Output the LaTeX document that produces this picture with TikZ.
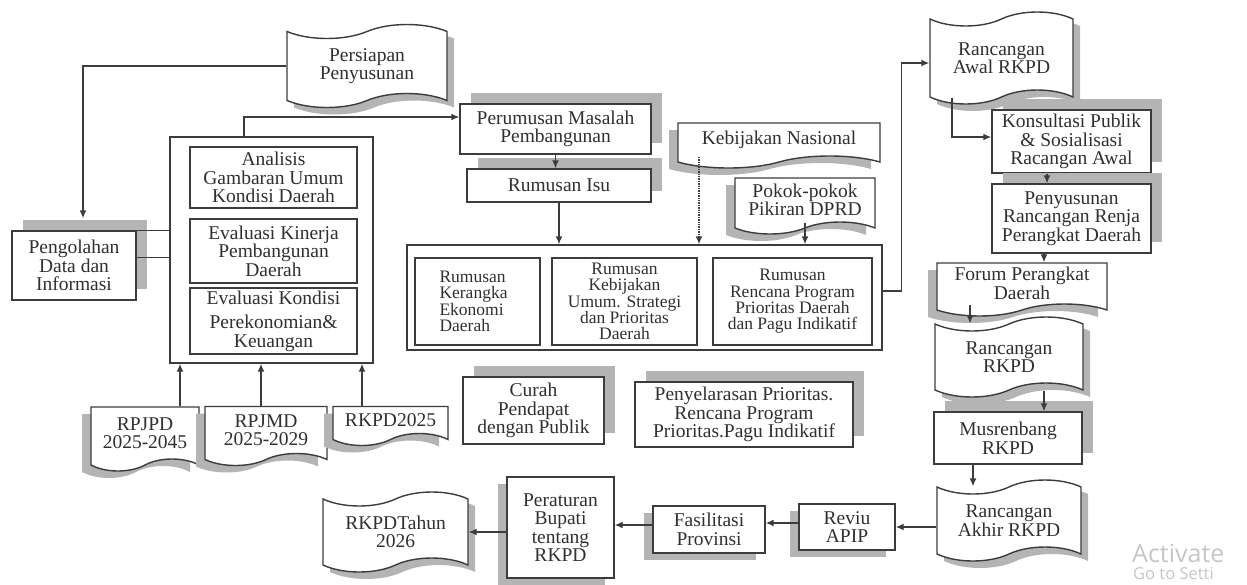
\documentclass[tikz,border=0pt]{standalone}
\usepackage{fontspec}
\setmainfont{Liberation Serif}
\setsansfont{Open Sans}
\usetikzlibrary{arrows.meta,shapes.symbols,shadows}

\definecolor{linec}{HTML}{3C3C3C}
\definecolor{textc}{HTML}{303030}
\definecolor{shadec}{HTML}{B4B4B4}

\tikzset{
  base/.style={draw=linec, line width=1.4pt, fill=white, text=textc, align=center,
    inner sep=1pt, font=\fontsize{19.5}{18.5}\selectfont},
  box/.style={base, rectangle},
  tapebox/.style={base, tape, tape bend height=14pt},
  docbox/.style={base, tape, tape bend top=none, tape bend height=12pt},
  inbox/.style={box, font=\fontsize{17.5}{16.3}\selectfont},
  shUR/.style={drop shadow={shadow xshift=11pt, shadow yshift=11pt, fill=shadec, opacity=1}},
  shDL/.style={drop shadow={shadow xshift=-9pt, shadow yshift=-7pt, fill=shadec, opacity=1}},
  shDR/.style={drop shadow={shadow xshift=7pt, shadow yshift=-7pt, fill=shadec, opacity=1}},
  link/.style={draw=linec, line width=1.4pt},
  arr/.style={link, -{Latex[length=8pt,width=7pt]}},
}

\begin{document}
\begin{tikzpicture}[x=1pt, y=-1pt]
  \useasboundingbox (0,0) rectangle (1247,584);
  \clip (0,0) rectangle (1247,584);

  % Persiapan dan pengolahan data
  \node[tapebox, shDR, minimum width=160pt, minimum height=83pt] (persiapan) at (367,66) {Persiapan\\Penyusunan};
  \node[box, shUR, minimum width=124pt, minimum height=69pt] (pengolahan) at (74,265.5) {Pengolahan\\Data dan\\Informasi};

  % Kelompok analisis
  \node[box, minimum width=203pt, minimum height=226pt] (grp) at (271.5,250) {};
  \node[box, minimum width=167pt, minimum height=61pt] (analisis) at (273.5,177.5) {Analisis\\Gambaran Umum\\Kondisi Daerah};
  \node[box, minimum width=167pt, minimum height=64pt] (evkinerja) at (273.5,251) {Evaluasi Kinerja\\Pembangunan\\Daerah};
  \node[box, minimum width=167pt, minimum height=66pt] (evkondisi) at (273.5,321) {Evaluasi Kondisi\\[6pt]Perekonomian\&\\Keuangan};

  % Dokumen rencana
  \node[docbox, shDL, minimum width=108pt, minimum height=64pt] (rpjpd) at (145,433) {RPJPD\\2025-2045};
  \node[docbox, shDL, minimum width=122pt, minimum height=59pt] (rpjmd) at (266,430) {RPJMD\\2025-2029};
  \node[docbox, shDL, minimum width=115pt, minimum height=39pt] (rkpdlalu) at (390.5,420) {RKPD2025};

  % Perumusan masalah
  \node[box, shUR, minimum width=191pt, minimum height=50pt] (perumusan) at (555.5,129) {Perumusan Masalah\\Pembangunan};
  \node[box, shUR, minimum width=184pt, minimum height=33pt] (isu) at (559,185.5) {Rumusan Isu};
  \node[docbox, shDL, minimum width=202pt, minimum height=45pt] (kebnas) at (779,139.5) {Kebijakan Nasional};
  \node[docbox, shDL, minimum width=140pt, minimum height=56pt] (pokir) at (805,200) {Pokok-pokok\\Pikiran DPRD};

  % Kelompok rumusan
  \node[box, minimum width=475pt, minimum height=105pt] (rumusan) at (644.5,297.5) {};
  \node[inbox, minimum width=125pt, minimum height=87pt, text width=76pt, align=left] (kerangka) at (477.5,301.5) {Rumusan\\Kerangka\\Ekonomi\\Daerah};
  \node[inbox, minimum width=145pt, minimum height=87pt] (kebum) at (624.5,301.5) {Rumusan\\Kebijakan\\Umum. Strategi\\dan Prioritas\\Daerah};
  \node[inbox, minimum width=159pt, minimum height=87pt] (rencana) at (792.5,301.5) {Rumusan\\Rencana Program\\Prioritas Daerah\\dan Pagu Indikatif};

  \node[box, shUR, minimum width=141pt, minimum height=67pt] (curah) at (533.5,410.5) {Curah\\Pendapat\\dengan Publik};
  \node[box, shUR, minimum width=218pt, minimum height=65pt] (selaras) at (744,414.5) {Penyelarasan Prioritas.\\Rencana Program\\Prioritas.Pagu Indikatif};

  % Kolom kanan
  \node[tapebox, shDR, minimum width=143pt, minimum height=92pt] (rawal) at (1001.5,58) {Rancangan\\Awal RKPD};
  \node[box, shUR, minimum width=159pt, minimum height=63pt] (konsultasi) at (1071.5,141.5) {Konsultasi Publik\\\& Sosialisasi\\Racangan Awal};
  \node[box, shUR, minimum width=159pt, minimum height=69pt] (renja) at (1071.5,218.5) {Penyusunan\\Rancangan Renja\\Perangkat Daerah};
  \node[docbox, shDL, minimum width=170pt, minimum height=53pt] (forum) at (1022,283.5) {Forum Perangkat\\Daerah};
  \node[tapebox, shDR, minimum width=148pt, minimum height=80pt] (rrkpd) at (1009,357) {Rancangan\\RKPD};
  \node[box, shUR, minimum width=148pt, minimum height=52pt] (musren) at (1008,438) {Musrenbang\\RKPD};
  \node[tapebox, shDR, minimum width=144pt, minimum height=81pt] (rakhir) at (1009,520.5) {Rancangan\\Akhir RKPD};

  % Baris bawah
  \node[box, shDL, minimum width=96pt, minimum height=46pt] (reviu) at (847,527) {Reviu\\APIP};
  \node[box, shDL, minimum width=112pt, minimum height=47pt] (fasilitasi) at (709,529.5) {Fasilitasi\\Provinsi};
  \node[box, shDL, minimum width=107pt, minimum height=101pt] (perbup) at (560.5,527.5) {Peraturan\\Bupati\\tentang\\RKPD};
  \node[tapebox, shDR, minimum width=145pt, minimum height=80pt] (rkpdbaru) at (395.5,532) {RKPDTahun\\2026};

  % Connectors
  \draw[arr, shorten >=12pt] (persiapan.west) -| ([xshift=9pt]pengolahan.north);
  \draw[link] (pengolahan.north east) -- (pengolahan.north east -| grp.west);
  \draw[link] ([yshift=-27pt]pengolahan.north east) -- ([yshift=-27pt]pengolahan.north east -| grp.west);
  \draw[arr] ([xshift=-27.5pt]grp.north) |- ([yshift=12pt]perumusan.west);
  \draw[arr] ([xshift=35pt]rpjpd.north) -- ([xshift=35pt]rpjpd.north |- grp.south);
  \draw[arr] ([xshift=-5pt]rpjmd.north) -- ([xshift=-5pt]rpjmd.north |- grp.south);
  \draw[arr] ([xshift=-28.5pt]rkpdlalu.north) -- ([xshift=-28.5pt]rkpdlalu.north |- grp.south);
  \draw[arr] (perumusan.south) -- (perumusan.south |- isu.north);
  \draw[arr] (isu.south) -- (isu.south |- rumusan.north);
  \draw[arr, densely dotted] ([xshift=-80pt]kebnas.south) -- ([xshift=-80pt]kebnas.south |- rumusan.north);
  \draw[arr] (pokir.south) -- (pokir.south |- rumusan.north);
  \draw[arr] ([yshift=6.5pt]rumusan.east) -- ++(19,0) |- ([yshift=-5pt]rawal.west);
  \draw[arr] ([xshift=-49.5pt]rawal.south) |- ([yshift=4.5pt]konsultasi.west);
  \draw[arr] ([xshift=-24.5pt]konsultasi.south) -- ([xshift=-24.5pt]konsultasi.south |- renja.north);
  \draw[arr] ([xshift=-27.5pt]renja.south) -- ([xshift=-27.5pt]renja.south |- forum.north);
  \draw[arr] ([xshift=-52pt]forum.south) -- ([xshift=-52pt]forum.south |- rrkpd.north);
  \draw[arr] ([xshift=35pt]rrkpd.south) -- ([xshift=35pt]rrkpd.south |- musren.north);
  \draw[arr] ([xshift=-35pt]musren.south) -- ([xshift=-35pt]musren.south |- rakhir.north);
  \draw[arr] (rakhir.west |- reviu.east) -- (reviu.east);
  \draw[arr] ([yshift=4pt]reviu.west) -- ([yshift=4pt]reviu.west -| fasilitasi.east);
  \draw[arr] ([yshift=4.5pt]fasilitasi.west) -- ([yshift=4.5pt]fasilitasi.west -| perbup.east);
  \draw[arr] (perbup.west |- rkpdbaru.east) -- (rkpdbaru.east);

  % Watermark
  \node[text=gray!45, font=\sffamily\fontsize{25}{25}\selectfont, anchor=west, inner sep=0pt] (wmA) at (1132,553) {Activate};
  \node[text=gray!45, font=\sffamily\fontsize{16.5}{16.5}\selectfont, anchor=west, inner sep=0pt] (wmB) at (1133,574) {Go to Setti};
\end{tikzpicture}
\end{document}
